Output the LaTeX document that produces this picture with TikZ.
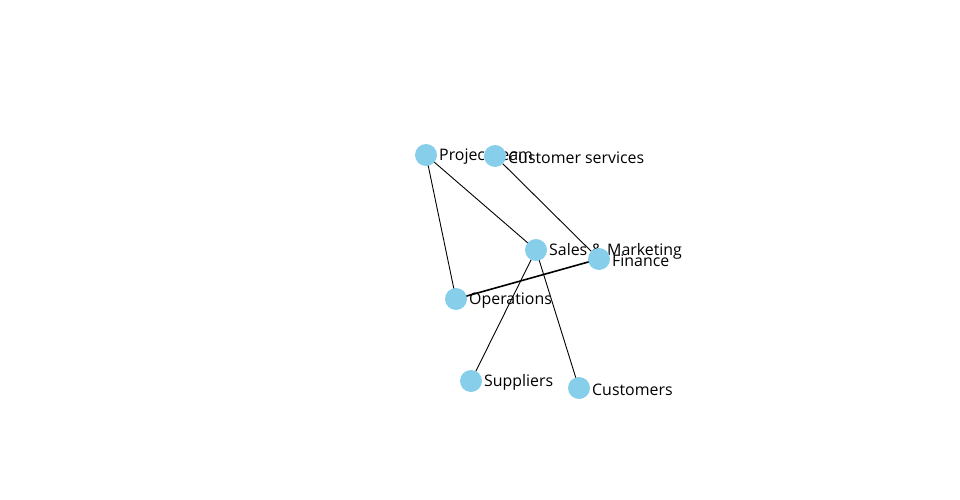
\documentclass[tikz,border=0pt]{standalone}
\usepackage{fontspec}
\setmainfont{Open Sans}
\begin{document}
\begin{tikzpicture}[x=1pt,y=-1pt,
  vtx/.style={circle,fill=vcol,draw=none,minimum size=22pt,inner sep=0pt},
  lbl/.style={anchor=west,inner sep=0pt,yshift=-1.5pt,font=\fontsize{15.9}{19}\selectfont,text=black},
  edge/.style={draw=black,line width=0.9pt},
  thick edge/.style={draw=black,line width=1.6pt}]
\definecolor{vcol}{RGB}{135,206,235}
\useasboundingbox (0,0) rectangle (960,500);
% coordinates
\coordinate (pt) at (426,155);
\coordinate (cs) at (495,156);
\coordinate (sm) at (536,250);
\coordinate (fi) at (599,259);
\coordinate (op) at (456,299);
\coordinate (su) at (471,381);
\coordinate (cu) at (579,388);
% edges
\draw[edge] (pt) -- (sm);
\draw[edge] (pt) -- (op);
\draw[edge] (cs) -- (fi);
\draw[thick edge] (op) -- (fi);
\draw[edge] (sm) -- (su);
\draw[edge] (sm) -- (cu);
% nodes with labels
\node[vtx] (npt) at (pt) {};
\node[lbl] (lpt) at (439,155) {Project team};
\node[vtx] (ncs) at (cs) {};
\node[lbl] (lcs) at (508,156) {Customer services};
\node[vtx] (nsm) at (sm) {};
\node[lbl] (lsm) at (549,250) {Sales \& Marketing};
\node[vtx] (nfi) at (fi) {};
\node[lbl] (lfi) at (612,259) {Finance};
\node[vtx] (nop) at (op) {};
\node[lbl] (lop) at (469,299) {Operations};
\node[vtx] (nsu) at (su) {};
\node[lbl] (lsu) at (484,381) {Suppliers};
\node[vtx] (ncu) at (cu) {};
\node[lbl] (lcu) at (592,388) {Customers};
\end{tikzpicture}
\end{document}
